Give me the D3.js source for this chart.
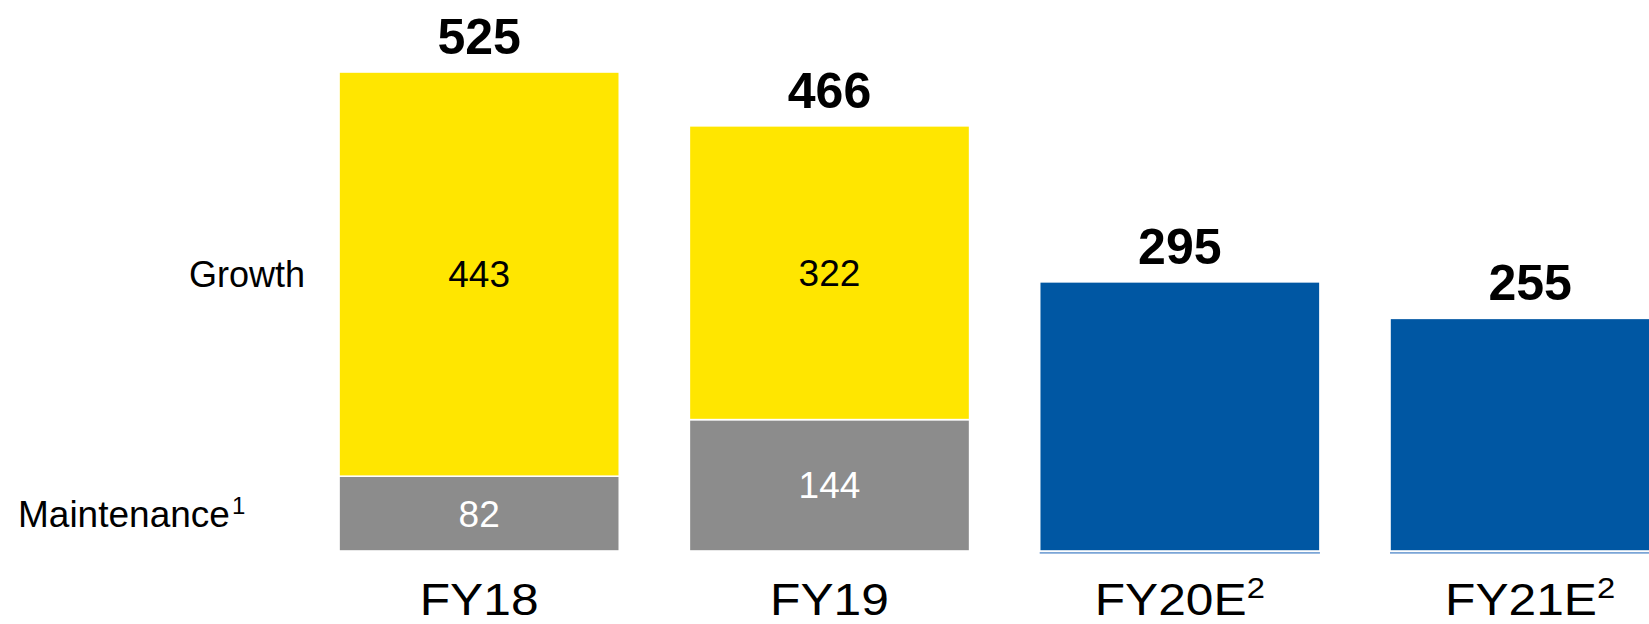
<!DOCTYPE html>
<html>
<head>
<meta charset="utf-8">
<script src="https://cdn.jsdelivr.net/npm/d3@7"></script>
<style>
  html, body { margin: 0; padding: 0; background: #ffffff; }
  svg { display: block; }
  text { font-family: "Liberation Sans", Arial, sans-serif; }
</style>
</head>
<body>
<script>
// ---- data ----
const categories = ["FY18", "FY19", "FY20E", "FY21E"];
const categorySup = ["", "", "2", "2"];
const maintenance = [82, 144, 0, 0];
const growth = [443, 322, 0, 0];
const projected = [0, 0, 295, 255];
const totals = [525, 466, 295, 255];
const seriesLabels = ["Growth", "Maintenance"];

// ---- layout ----
const W = 1649, H = 624;
const svg = d3.select("body").append("svg").attr("width", W).attr("height", H);

const x = d3.scaleBand()
  .domain(categories)
  .range([304, 1705.3])
  .paddingInner(0.2)
  .paddingOuter(0.1);

const y = d3.scaleLinear().domain([0, 525]).range([551, 72]);

const colors = { maintenance: "#8c8c8c", growth: "#ffe600", projected: "#0057a3" };

const rows = categories.map((c, i) => ({
  cat: c, maintenance: maintenance[i], growth: growth[i], projected: projected[i]
}));
const stack = d3.stack().keys(["maintenance", "growth", "projected"]);
const layers = stack(rows);

svg.append("g").selectAll("g")
  .data(layers)
  .join("g")
  .attr("fill", d => colors[d.key])
  .selectAll("rect")
  .data(d => d.filter(p => p[1] - p[0] > 0))
  .join("rect")
  .attr("x", d => x(d.data.cat))
  .attr("width", x.bandwidth())
  .attr("y", d => y(d[1]))
  .attr("height", d => y(d[0]) - y(d[1]))
  .attr("stroke", "#ffffff")
  .attr("stroke-width", 1.6);

// thin light line under projected bars
svg.append("g").selectAll("rect")
  .data(rows.filter(r => r.projected > 0))
  .join("rect")
  .attr("x", d => x(d.cat))
  .attr("width", x.bandwidth())
  .attr("y", y(0) + 1.2)
  .attr("height", 1.4)
  .attr("fill", "#5b8fcc");

// segment labels
const segLabels = [];
layers.forEach(l => {
  if (l.key === "projected") return;
  l.forEach(p => {
    const v = p[1] - p[0];
    if (v > 0) segLabels.push({ cat: p.data.cat, key: l.key, v, mid: (p[0] + p[1]) / 2 });
  });
});
svg.append("g").selectAll("text")
  .data(segLabels)
  .join("text")
  .attr("x", d => x(d.cat) + x.bandwidth() / 2)
  .attr("y", d => y(d.mid) + 13)
  .attr("text-anchor", "middle")
  .attr("font-size", 37)
  .attr("fill", d => d.key === "growth" ? "#000000" : "#ffffff")
  .text(d => d.v);

// totals
svg.append("g").selectAll("text")
  .data(categories)
  .join("text")
  .attr("x", d => x(d) + x.bandwidth() / 2)
  .attr("y", (d, i) => y(totals[i]) - 18)
  .attr("text-anchor", "middle")
  .attr("font-size", 50)
  .attr("font-weight", "bold")
  .attr("fill", "#000000")
  .text((d, i) => totals[i]);

// category labels
const catG = svg.append("g").selectAll("g")
  .data(categories)
  .join("g")
  .attr("transform", d => `translate(${x(d) + x.bandwidth() / 2},615) scale(1.13,1)`);
const catText = catG.append("text")
  .attr("text-anchor", "middle")
  .attr("font-size", 44)
  .attr("fill", "#000000");
catText.append("tspan").text(d => d);
catText.append("tspan")
  .attr("font-size", 29)
  .attr("dy", -17)
  .text((d, i) => categorySup[i]);

// series labels on the left
svg.append("text")
  .attr("x", 305)
  .attr("y", y(maintenance[0] + growth[0] / 2) + 13)
  .attr("text-anchor", "end")
  .attr("font-size", 36)
  .attr("fill", "#000000")
  .text(seriesLabels[0]);

const mt = svg.append("text")
  .attr("x", 18)
  .attr("y", y(maintenance[0] / 2) + 13)
  .attr("text-anchor", "start")
  .attr("font-size", 37)
  .attr("fill", "#000000");
mt.append("tspan").text(seriesLabels[1]);
mt.append("tspan").attr("font-size", 24).attr("dy", -13).attr("dx", 2).text("1");
</script>
</body>
</html>
